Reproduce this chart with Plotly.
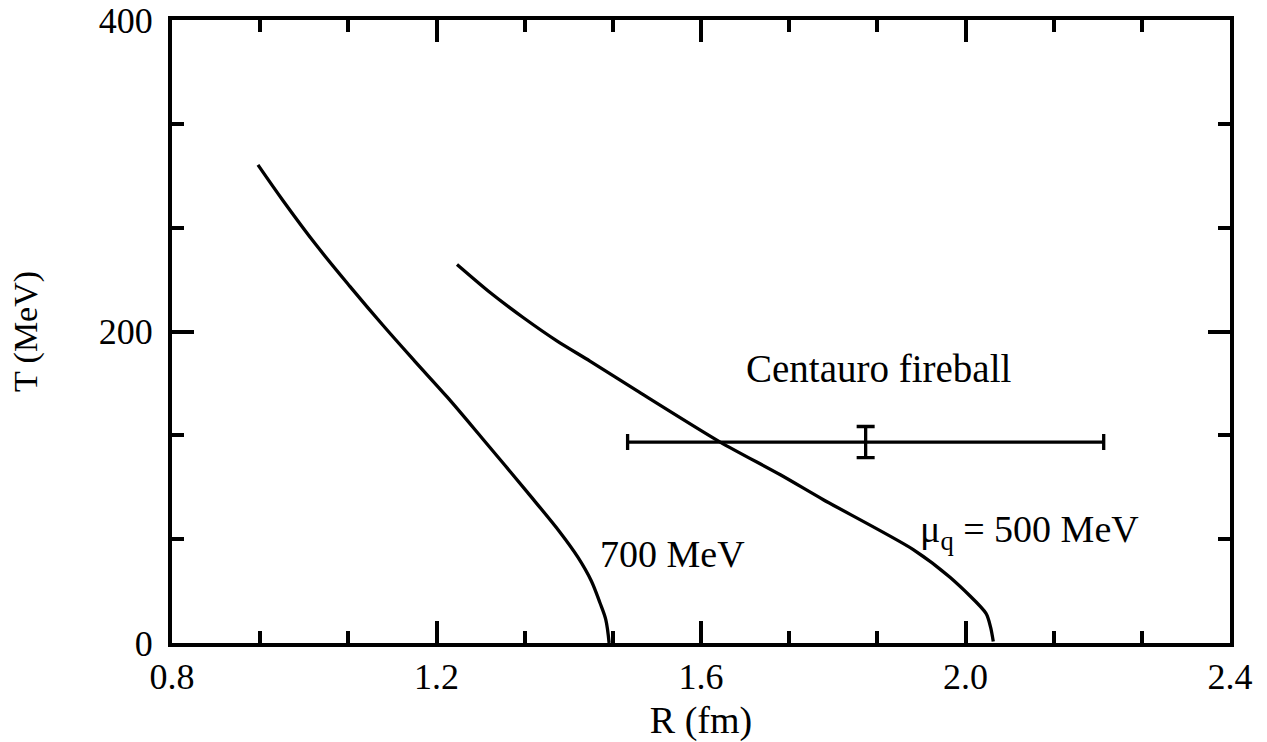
import plotly.graph_objects as go

# Curve for mu_q = 700 MeV
r_700 = [0.930, 0.968, 1.019, 1.069, 1.119, 1.167, 1.216, 1.270, 1.337, 1.387, 1.414, 1.434, 1.447, 1.456, 1.461]
t_700 = [307, 284, 255, 229, 204, 181, 158, 131, 97, 71, 55, 40, 26, 15, 0]

# Curve for mu_q = 500 MeV
r_500 = [1.231, 1.281, 1.331, 1.382, 1.432, 1.503, 1.629, 1.720, 1.785, 1.921, 1.977, 2.031, 2.038, 2.042]
t_500 = [243, 225, 209, 194, 181, 162, 129, 108, 92, 60, 42, 19, 10, 1]

# Centauro fireball point with errors
fb_r = [1.849]
fb_t = [129]
fb_r_err = [0.36]
fb_t_err = [10]

FONT = "Liberation Serif, Times New Roman, serif"
LW = 3.3

fig = go.Figure()
fig.add_trace(go.Scatter(x=r_700, y=t_700, mode="lines",
                         line=dict(color="black", width=LW, shape="spline", smoothing=1.0),
                         showlegend=False))
fig.add_trace(go.Scatter(x=r_500, y=t_500, mode="lines",
                         line=dict(color="black", width=LW, shape="spline", smoothing=0.7),
                         showlegend=False))
fig.add_trace(go.Scatter(x=fb_r, y=fb_t, mode="markers",
                         marker=dict(size=1, color="rgba(0,0,0,0)"),
                         error_x=dict(type="data", array=fb_r_err, color="black", thickness=LW, width=8),
                         error_y=dict(type="data", array=fb_t_err, color="black", thickness=LW, width=9),
                         showlegend=False))

fig.add_annotation(x=1.868, y=176, text="Centauro fireball", showarrow=False,
                   font=dict(family=FONT, size=39, color="black"), xanchor="center", yanchor="middle")
fig.add_annotation(x=1.557, y=57, text="700 MeV", showarrow=False,
                   font=dict(family=FONT, size=38, color="black"), xanchor="center", yanchor="middle")
fig.add_annotation(x=1.928, y=71, text="μ<sub>q</sub> = 500 MeV", showarrow=False,
                   font=dict(family=FONT, size=38, color="black"), xanchor="left", yanchor="middle")

axis_common = dict(
    showline=True, linecolor="black", linewidth=4, mirror="allticks",
    ticks="inside", ticklen=22, tickwidth=3.5, tickcolor="black",
    showgrid=False, zeroline=False, ticklabeloverflow="allow",
    tickfont=dict(family=FONT, size=36, color="black"),
)

fig.update_xaxes(range=[0.8, 2.4], tickvals=[0.8, 1.2, 1.6, 2.0, 2.4],
                 ticktext=["0.8", "1.2", "1.6", "2.0", "2.4"],
                 minor=dict(tickmode="linear", tick0=0.8, dtick=0.4 / 3, ticks="inside",
                            ticklen=12, tickwidth=3.5, tickcolor="black", showgrid=False),
                 title=dict(text="R (fm)", font=dict(family=FONT, size=38, color="black"), standoff=12),
                 ticklabelstandoff=-1,
                 **axis_common)
fig.update_yaxes(range=[0, 400], tickvals=[0, 200, 400], ticktext=["0", "200", "400"],
                 minor=dict(tickmode="linear", tick0=0, dtick=400 / 6, ticks="inside",
                            ticklen=12, tickwidth=3.5, tickcolor="black", showgrid=False),
                 title=dict(text="T (MeV)", font=dict(family=FONT, size=34, color="black"), standoff=52),
                 ticklabelstandoff=8,
                 **axis_common)

fig.update_layout(width=1267, height=742,
                  margin=dict(l=172, r=37, t=20, b=99, autoexpand=False),
                  paper_bgcolor="white", plot_bgcolor="white")

# remove the default page margin so the figure sits at the window's top-left corner
fig.write_html("out.html", config={"displayModeBar": False},
               post_script="document.body.style.margin='0';")
